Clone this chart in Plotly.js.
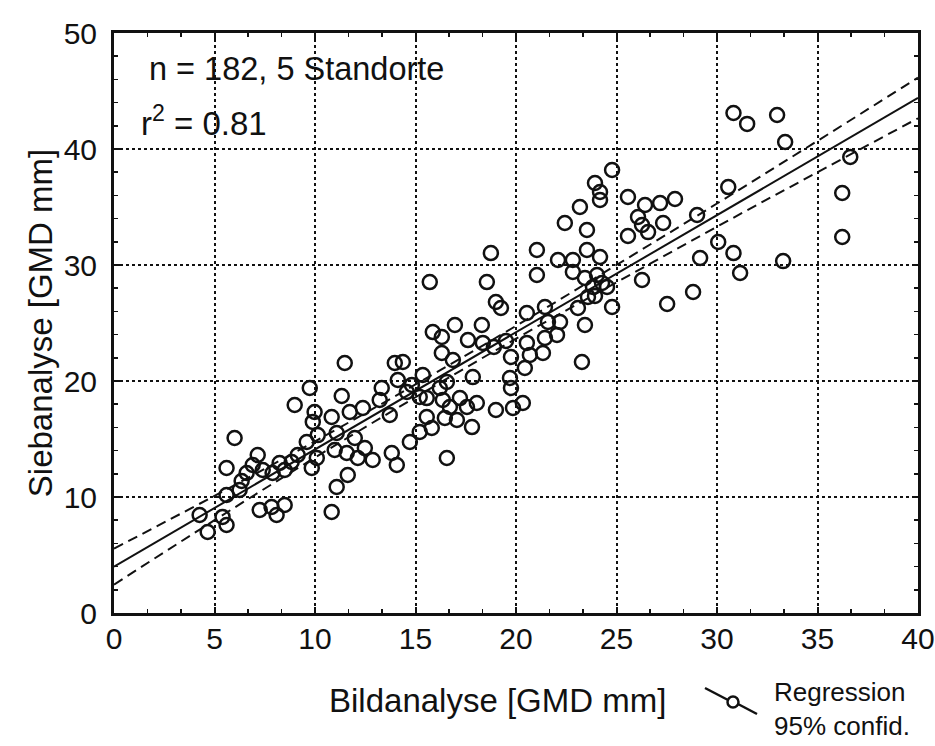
<!DOCTYPE html>
<html>
<head>
<meta charset="utf-8">
<script src="https://cdn.plot.ly/plotly-3.0.1.min.js"></script>
<style>html,body{margin:0;padding:0;background:#fff;}#chart{width:935px;height:746px;}</style>
</head>
<body>
<div id="chart"></div>
<script>
// Bildanalyse (x) vs Siebanalyse (y), GMD mm
var bildX = [4.26,4.66,5.40,5.60,5.60,5.60,6.00,6.25,6.35,6.60,6.90,7.15,7.40,7.89,8.24,8.49,7.25,7.84,8.09,8.49,
  8.84,9.14,8.99,9.59,9.84,10.09,9.89,9.98,9.74,10.14,10.83,11.08,10.98,11.08,10.83,11.33,11.48,11.58,11.63,11.73,
  11.98,12.13,12.38,12.48,12.87,13.22,13.32,13.72,13.82,14.07,13.97,14.37,14.12,14.57,14.72,14.82,15.21,15.21,15.36,15.56,
  15.56,15.81,15.71,15.86,16.31,16.31,16.86,16.96,17.61,18.30,18.35,18.55,18.75,18.90,19.00,19.25,19.75,16.21,16.36,16.46,
  16.56,16.56,16.71,17.06,17.21,17.56,17.81,17.85,18.05,19.00,19.70,19.75,19.85,20.34,20.69,20.44,20.54,21.34,20.54,21.44,
  22.04,21.44,21.59,22.19,23.08,23.43,21.04,21.04,22.09,22.83,22.83,23.43,23.53,23.53,22.43,23.18,23.93,24.18,24.18,24.78,
  24.03,24.18,24.28,23.83,24.53,23.58,24.78,23.28,23.93,25.57,26.42,27.17,27.91,26.07,26.27,26.57,27.32,25.57,29.01,30.06,
  30.82,29.16,31.15,26.27,28.81,27.52,30.56,30.82,31.50,32.99,33.39,33.29,36.63,36.23,36.23,19.50];
var siebY = [8.45,6.98,8.28,7.59,10.17,12.50,15.09,10.60,11.38,12.07,12.76,13.62,12.33,12.07,12.93,12.33,8.88,9.14,8.45,9.31,
  13.02,13.62,17.93,14.74,12.50,13.36,16.47,17.33,19.40,15.34,16.90,15.52,14.05,10.86,8.71,18.71,21.55,13.79,11.90,17.33,
  15.09,13.36,17.67,14.22,13.19,18.36,19.40,17.07,13.79,12.76,21.55,21.64,20.09,19.05,14.74,19.66,18.62,15.60,20.52,18.53,
  16.90,15.95,28.53,24.22,23.79,22.41,21.81,24.83,23.53,24.83,23.28,28.53,31.03,22.93,26.81,26.29,22.07,19.40,18.36,16.81,
  19.91,13.36,17.76,16.64,18.53,17.76,16.03,20.34,18.10,17.50,20.26,19.40,17.67,18.10,22.24,21.12,25.86,22.41,23.28,23.71,
  23.97,26.38,25.09,25.09,26.29,24.83,29.14,31.29,30.43,30.43,29.40,28.88,31.29,33.02,33.62,35.00,37.07,36.29,35.60,38.19,
  29.14,30.69,28.45,28.10,28.10,27.24,26.38,21.64,27.33,35.86,35.17,35.34,35.69,34.14,33.45,32.84,33.62,32.50,34.31,31.98,
  31.03,30.60,29.31,28.71,27.67,26.64,36.72,43.10,42.16,42.93,40.60,30.34,39.31,36.21,32.41,23.45];

// regression line and 95% confidence band, read at these x positions
var lineX = [0, 5, 10, 15, 20, 25, 30, 35, 40];
var fitY = [4.0, 9.05, 14.1, 19.15, 24.2, 29.25, 34.3, 39.35, 44.4];
var upperY = [5.55, 10.1, 14.8, 19.7, 24.75, 30.0, 35.3, 40.7, 46.15];
var lowerY = [2.45, 8.0, 13.4, 18.6, 23.65, 28.5, 33.3, 38.0, 42.65];

var xTicks = [0, 5, 10, 15, 20, 25, 30, 35, 40];
var yTicks = [0, 10, 20, 30, 40, 50];

var FONT = '"Liberation Sans", Arial, sans-serif';
var INK = '#111111';

var traces = [
  {x: lineX, y: upperY, mode: 'lines', line: {color: INK, width: 2, dash: '10px,6px', shape: 'spline'}, hoverinfo: 'skip'},
  {x: lineX, y: lowerY, mode: 'lines', line: {color: INK, width: 2, dash: '10px,6px', shape: 'spline'}, hoverinfo: 'skip'},
  {x: lineX, y: fitY, mode: 'lines', line: {color: INK, width: 2}, hoverinfo: 'skip'},
  {x: bildX, y: siebY, mode: 'markers', marker: {symbol: 'circle-open', size: 14, color: INK, line: {width: 2.5}}}
];

var axisCommon = {
  showline: true, mirror: 'allticks', linecolor: INK, linewidth: 3,
  ticks: 'inside', ticklen: 6, tickwidth: 2, tickcolor: INK,
  showgrid: true, gridcolor: INK, gridwidth: 2, griddash: '3px,3px',
  zeroline: false, tickfont: {family: FONT, size: 30, color: INK}
};

var layout = {
  width: 935, height: 746,
  margin: {l: 114, r: 17, t: 33, b: 133},
  paper_bgcolor: '#ffffff', plot_bgcolor: '#ffffff',
  showlegend: false,
  font: {family: FONT, color: INK},
  xaxis: Object.assign({}, axisCommon, {
    range: [0, 40], tickmode: 'array', tickvals: xTicks, ticktext: xTicks.map(String),
    ticklabelstandoff: -3,
    minor: {dtick: 5/3, tick0: 0, ticks: 'inside', ticklen: 4, tickwidth: 1.5, tickcolor: INK, showgrid: false}
  }),
  yaxis: Object.assign({}, axisCommon, {
    range: [0, 50], tickmode: 'array', tickvals: yTicks, ticktext: yTicks.map(String),
    ticklabelstandoff: 8,
    minor: {dtick: 2, tick0: 0, ticks: 'inside', ticklen: 4, tickwidth: 1.5, tickcolor: INK, showgrid: false},
    title: {text: 'Siebanalyse [GMD mm]', font: {family: FONT, size: 33, color: INK}, standoff: 2}
  }),
  annotations: [
    {xref: 'paper', yref: 'paper', x: (497 - 114) / 804, y: -(700 - 613) / 580, text: 'Bildanalyse [GMD mm]',
     showarrow: false, xanchor: 'center', yanchor: 'middle', font: {family: FONT, size: 33, color: INK}},
    {xref: 'x', yref: 'y', x: 1.65, y: 46.9, text: 'n = 182, 5 Standorte',
     showarrow: false, xanchor: 'left', yanchor: 'middle', font: {family: FONT, size: 32.5, color: INK}},
    {xref: 'x', yref: 'y', x: 1.25, y: 42.4, text: 'r<sup>2</sup> = 0.81',
     showarrow: false, xanchor: 'left', yanchor: 'middle', font: {family: FONT, size: 33, color: INK}},
    {xref: 'paper', yref: 'paper', x: (912 - 114) / 804, y: -(709 - 613) / 580, text: 'Regression<br>95% confid.',
     showarrow: false, xanchor: 'right', yanchor: 'middle', align: 'left', font: {family: FONT, size: 26, color: INK}}
  ],
  shapes: [
    {type: 'line', xref: 'paper', yref: 'paper', x0: (705 - 114) / 804, y0: -(688 - 613) / 580, x1: (728 - 114) / 804, y1: -(700 - 613) / 580, line: {color: INK, width: 2.5}},
    {type: 'line', xref: 'paper', yref: 'paper', x0: (738 - 114) / 804, y0: -(704 - 613) / 580, x1: (757 - 114) / 804, y1: -(714 - 613) / 580, line: {color: INK, width: 2.5}},
    {type: 'circle', xref: 'paper', yref: 'paper', xsizemode: 'pixel', ysizemode: 'pixel',
     xanchor: (733 - 114) / 804, yanchor: -(702 - 613) / 580, x0: -5.5, x1: 5.5, y0: -5.5, y1: 5.5,
     line: {color: INK, width: 2.5}, fillcolor: 'rgba(0,0,0,0)'}
  ]
};

Plotly.newPlot('chart', traces, layout, {displayModeBar: false, staticPlot: true});
</script>
</body>
</html>
